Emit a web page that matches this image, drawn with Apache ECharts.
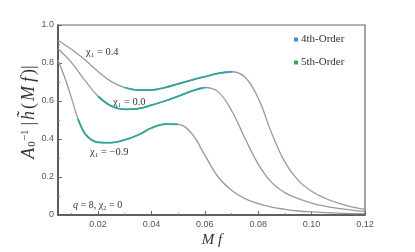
<!DOCTYPE html>
<html>
<head>
<meta charset="utf-8">
<script src="https://cdn.jsdelivr.net/npm/echarts@6/dist/echarts.min.js"></script>
<style>
html,body{margin:0;padding:0;background:#fff;}
#c{width:415px;height:252px;}
</style>
</head>
<body>
<div id="c"></div>
<script>
// Mf values and |h| values
var curveTop = [ // chi1 = 0.4
  [0.005,0.920],[0.010,0.872],[0.015,0.818],[0.020,0.755],[0.025,0.702],[0.030,0.671],
  [0.035,0.658],[0.040,0.658],[0.045,0.671],[0.050,0.690],[0.055,0.710],[0.060,0.728],
  [0.065,0.745],[0.070,0.754],[0.075,0.726],[0.080,0.615],[0.085,0.432],[0.090,0.278],
  [0.095,0.182],[0.100,0.125],[0.105,0.088],[0.110,0.062],[0.115,0.043],[0.120,0.030]
];
var curveMid = [ // chi1 = 0.0
  [0.005,0.875],[0.010,0.803],[0.015,0.710],[0.020,0.625],[0.025,0.573],[0.030,0.556],
  [0.035,0.560],[0.040,0.578],[0.045,0.600],[0.050,0.625],[0.055,0.652],[0.060,0.671],
  [0.065,0.648],[0.070,0.550],[0.075,0.405],[0.080,0.268],[0.085,0.172],[0.090,0.118],
  [0.095,0.086],[0.100,0.063],[0.105,0.047],[0.110,0.035],[0.115,0.026],[0.120,0.019]
];
var curveBot = [ // chi1 = -0.9
  [0.005,0.815],[0.0075,0.725],[0.010,0.618],[0.0125,0.505],[0.015,0.430],[0.0175,0.396],
  [0.020,0.382],[0.025,0.381],[0.030,0.395],[0.035,0.421],[0.040,0.458],[0.045,0.478],
  [0.050,0.477],[0.055,0.430],[0.060,0.315],[0.065,0.200],[0.070,0.130],[0.075,0.086],
  [0.080,0.060],[0.085,0.042],[0.090,0.030],[0.095,0.021],[0.100,0.016],[0.110,0.010],
  [0.120,0.007]
];
// ranges (in Mf) covered by the 4th/5th-order overlays
var orderRanges = [[0.030,0.070],[0.020,0.060],[0.0125,0.050]];
var curves = [curveTop, curveMid, curveBot];
var seriesNames = ['4th-Order','5th-Order'];
var xTickLabels = [0.02,0.04,0.06,0.08,0.10,0.12];
var xMinorTicks = [0.01,0.03,0.05,0.07,0.09,0.11];

var chart = echarts.init(document.getElementById('c'), null, {renderer:'canvas'});
var series = [];
var SM = 0.4;
curves.forEach(function(c){
  series.push({type:'line', data:c, smooth:SM, showSymbol:false, silent:true,
    lineStyle:{color:'#9a9a9a', width:1.3}, z:2});
});
curves.forEach(function(c,i){
  var r = orderRanges[i];
  var sub = c.filter(function(p){return p[0]>=r[0]-1e-9 && p[0]<=r[1]+1e-9;});
  series.push({type:'line', name:seriesNames[0], data:sub, smooth:SM, showSymbol:false, silent:true,
    itemStyle:{color:'#3d8ef0'}, lineStyle:{color:'#4a9af0', width:1.8}, z:3});
  series.push({type:'line', name:seriesNames[1], data:sub, smooth:SM, showSymbol:false, silent:true,
    itemStyle:{color:'#2faa55'}, lineStyle:{color:'#2fae6e', width:1.2}, z:4});
});

var axisFont = {fontFamily:'Liberation Sans, Arial, sans-serif', fontSize:9, color:'#555'};
var option = {
  animation:false,
  backgroundColor:'#fff',
  grid:{left:58, right:50, top:25, bottom:37, show:true, borderColor:'#666', borderWidth:1.2, backgroundColor:'transparent'},
  legend:{data:seriesNames, orient:'vertical', left:294, top:34, padding:0, itemGap:12,
    icon:'rect', itemWidth:4, itemHeight:4,
    textStyle:{fontFamily:'Liberation Serif, serif', fontSize:11, color:'#333', padding:[0,0,0,-2]}},
  xAxis:[{
    type:'value', min:0.005, max:0.12,
    axisLine:{lineStyle:{color:'#444', width:1.5}},
    axisTick:{inside:true, length:4, customValues:xTickLabels, lineStyle:{color:'#666'}},
    axisLabel:Object.assign({customValues:xTickLabels, margin:5, formatter:function(v){return v.toFixed(2);}}, axisFont),
    splitLine:{show:false}
  },{
    type:'value', min:0.005, max:0.12, position:'bottom',
    axisLine:{show:false},
    axisTick:{inside:true, length:2, customValues:xMinorTicks, lineStyle:{color:'#888'}},
    axisLabel:{show:false}, splitLine:{show:false}
  }],
  yAxis:{
    type:'value', min:0, max:1, interval:0.2,
    axisLine:{show:true, lineStyle:{color:'#444', width:1.5}},
    axisTick:{show:true, inside:true, length:4, lineStyle:{color:'#666'}},
    minorTick:{show:true, splitNumber:2, length:2, lineStyle:{color:'#888'}},
    axisLabel:Object.assign({margin:4, formatter:function(v){return v===0?'0':v.toFixed(1);}}, axisFont),
    splitLine:{show:false}
  },
  graphic:[
    {type:'text', x:29, y:112, rotation:Math.PI/2,
      style:{text:'{i|A}{s|0}{p|−1}{n||}{i|h̃}{n|(}{i|M}{g| }{i|f}{n|)|}', align:'center', verticalAlign:'middle',
        rich:{
          i:{fontFamily:'Liberation Serif, serif', fontStyle:'italic', fontSize:18, fill:'#333', padding:[0,1,0,1]},
          n:{fontFamily:'Liberation Serif, serif', fontSize:18, fill:'#333', padding:[0,1,0,1]},
          g:{fontFamily:'Liberation Serif, serif', fontSize:8, fill:'#333'},
          s:{fontFamily:'Liberation Serif, serif', fontSize:11, fill:'#333', verticalAlign:'bottom', padding:[7,0,0,0]},
          p:{fontFamily:'Liberation Serif, serif', fontSize:11, fill:'#333', verticalAlign:'top', padding:[0,3,7,0]}
        }}},
    {type:'text', x:212, y:240, style:{text:'M f', fontFamily:'Liberation Serif, serif', fontStyle:'italic', fontSize:15, fill:'#333', align:'center', verticalAlign:'middle'}},
    {type:'text', x:86, y:52, style:{text:'χ₁ = 0.4', fontFamily:'Liberation Serif, serif', fontSize:10.5, fill:'#333', verticalAlign:'middle'}},
    {type:'text', x:113, y:102, style:{text:'χ₁ = 0.0', fontFamily:'Liberation Serif, serif', fontSize:10.5, fill:'#333', verticalAlign:'middle'}},
    {type:'text', x:90, y:152, style:{text:'χ₁ = −0.9', fontFamily:'Liberation Serif, serif', fontSize:10.5, fill:'#333', verticalAlign:'middle'}},
    {type:'text', x:73, y:205, style:{text:'{i|q} = 8, χ₂ = 0', fontFamily:'Liberation Serif, serif', fontSize:10, fill:'#333', verticalAlign:'middle',
      rich:{i:{fontFamily:'Liberation Serif, serif', fontStyle:'italic', fontSize:10, fill:'#333'}}}}
  ],
  series:series
};
chart.setOption(option);
</script>
</body>
</html>
